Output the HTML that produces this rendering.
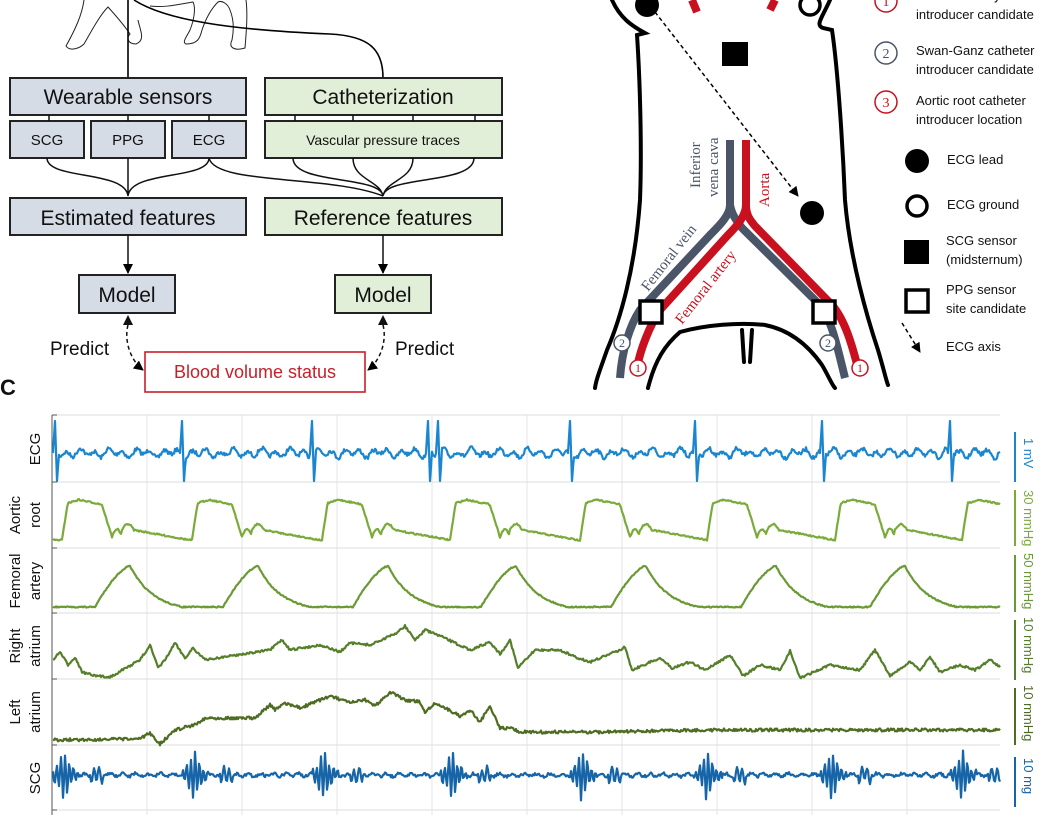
<!DOCTYPE html>
<html><head><meta charset="utf-8"><style>
html,body{margin:0;padding:0;background:#fff;}
svg{display:block;font-family:"Liberation Sans",sans-serif;}
</style></head><body>
<svg id="s" width="1050" height="815" viewBox="0 0 1050 815" xmlns="http://www.w3.org/2000/svg">
<defs>
<marker id="ah" markerWidth="10" markerHeight="10" refX="9" refY="5" orient="auto" markerUnits="userSpaceOnUse"><path d="M0,0 L10,5 L0,10 z" fill="#000"/></marker>
</defs>
<g fill="none" stroke="#222" stroke-width="1">
<path d="M84,0 C82,15 75,30 66,46 C70,52 80,48 84,44 C92,30 100,15 108,7 C118,18 126,28 130,34 C126,38 128,44 136,44 C146,40 140,30 138,20"/>
<path d="M150,6 C165,8 180,4 193,2 C196,8 194,20 190,30 C186,38 182,42 186,44 C198,44 200,38 202,30 C206,18 212,8 218,2 C222,0 228,4 230,10 C234,20 234,30 232,40 C228,48 235,51 245,48 C246,35 248,15 246,0"/>
</g>
<path d="M128,0 L128,78" stroke="#000" stroke-width="1.6" fill="none"/>
<path d="M134,0 C165,20 230,30 330,34 C370,36 383,50 383,78" stroke="#000" stroke-width="1.6" fill="none"/>

<g stroke="#222" stroke-width="2">
<rect x="10" y="78" width="236" height="37" fill="#d6dce6"/>
<rect x="265" y="78" width="237" height="37" fill="#e2efd8"/>
<rect x="10" y="121" width="74" height="37" fill="#d6dce6"/>
<rect x="91" y="121" width="74" height="37" fill="#d6dce6"/>
<rect x="172" y="121" width="74" height="37" fill="#d6dce6"/>
<rect x="265" y="121" width="237" height="37" fill="#e2efd8"/>
<rect x="10" y="198" width="236" height="37" fill="#d6dce6"/>
<rect x="265" y="198" width="237" height="37" fill="#e2efd8"/>
<rect x="79" y="275" width="96" height="38" fill="#d6dce6"/>
<rect x="335" y="275" width="96" height="38" fill="#e2efd8"/>
</g>
<rect x="145" y="352" width="220" height="40" fill="#fff" stroke="#c8202a" stroke-width="1.6"/>
<g font-size="21" text-anchor="middle" fill="#111">
<text x="128" y="104">Wearable sensors</text>
<text x="383" y="104">Catheterization</text>
<text x="128" y="225">Estimated features</text>
<text x="383" y="225">Reference features</text>
<text x="127" y="302">Model</text>
<text x="383" y="302">Model</text>
</g>
<g font-size="15" text-anchor="middle" fill="#111">
<text x="47" y="145">SCG</text><text x="128" y="145">PPG</text><text x="209" y="145">ECG</text>
</g>
<text x="383" y="145" font-size="14" text-anchor="middle" fill="#111">Vascular pressure traces</text>
<text x="255" y="378" font-size="18" text-anchor="middle" fill="#c8202a">Blood volume status</text>
<text x="50" y="355" font-size="19" fill="#111">Predict</text>
<text x="395" y="355" font-size="19" fill="#111">Predict</text>
<text x="0" y="395" font-size="22" font-weight="bold" fill="#111">C</text>

<g stroke="#111" stroke-width="1.5" fill="none">
<path d="M49,115 v6 M128,115 v6 M209,115 v6"/>
<path d="M295,115 v6 M353,115 v6 M413,115 v6 M475,115 v6"/>
<path d="M47,158 C47,180 125,170 128,196 M128,158 L128,196 M209,158 C209,180 131,170 128,196"/>
<path d="M209,158 C215,185 330,175 383,196"/>
<path d="M293,158 C293,185 380,175 383,196 M353,158 C353,180 380,180 383,196 M413,158 C413,180 386,180 383,196 M474,158 C474,185 386,175 383,196"/>
<path d="M128,235 L128,273" marker-end="url(#ah)"/>
<path d="M383,235 L383,273" marker-end="url(#ah)"/>
<path d="M128,325 C124,340 130,360 143,370" stroke-dasharray="4,3" marker-end="url(#ah)"/>
<path d="M383,325 C387,340 381,360 368,370" stroke-dasharray="4,3" marker-end="url(#ah)"/>
</g>
<path d="M128,315 l-5,10 h10 z M383,315 l-5,10 h10 z" fill="#111"/>

<g fill="none" stroke="#000" stroke-width="4" stroke-linecap="round">
<path d="M612,0 C620,18 632,26 645,33 L637,35 C640,80 642,150 640,200 C635,270 620,320 607,350 C600,370 596,380 595,388"/>
<path d="M830,0 C822,18 815,25 823,28 L832,30 C838,70 843,150 845,200 C850,260 868,320 878,350 C884,370 886,380 888,385"/>
<path d="M648,388 C655,360 665,345 680,332 C705,325 740,322 765,325 C790,330 808,345 822,365 C828,375 832,385 835,388"/>
<path d="M742,330 L744,362 M752,330 L750,362"/>
</g>
<g fill="none" stroke-width="8">
<path d="M730,140 L730,205 C730,215 720,225 710,235 L640,310 C630,325 622,350 620,378" stroke="#4a5568"/>
<path d="M730,205 C732,215 736,220 742,228 L820,305 C832,320 838,350 845,378" stroke="#4a5568"/>
<path d="M746,140 L746,205 C746,215 738,225 728,235 L660,310 C650,325 640,350 637,368" stroke="#c8101e"/>
<path d="M746,205 C746,215 750,220 755,226 L832,305 C845,320 852,345 858,368" stroke="#c8101e"/>
<path d="M692,0 L697,12 M775,0 L770,10" stroke="#c8101e"/>
</g>
<g font-family="Liberation Serif,serif" font-size="15">
<text transform="translate(700,188) rotate(-90)" fill="#4a5568">Inferior</text>
<text transform="translate(718,197) rotate(-90)" fill="#4a5568">vena cava</text>
<text transform="translate(769,207) rotate(-90)" fill="#c8101e">Aorta</text>
<text transform="translate(648,292) rotate(-52)" fill="#4a5568">Femoral vein</text>
<text transform="translate(682,325) rotate(-52)" fill="#c8101e">Femoral artery</text>
</g>
<rect x="640" y="301" width="22" height="22" fill="#fff" stroke="#000" stroke-width="3.5"/>
<rect x="813" y="301" width="22" height="22" fill="#fff" stroke="#000" stroke-width="3.5"/>
<circle cx="647" cy="5" r="12" fill="#000"/>
<circle cx="810" cy="5" r="10" fill="#fff" stroke="#000" stroke-width="3.5"/>
<rect x="722" y="42" width="26" height="24" fill="#000"/>
<circle cx="812" cy="213" r="12" fill="#000"/>
<path d="M655,12 L798,196" stroke="#000" stroke-width="1.5" stroke-dasharray="4,3" fill="none" marker-end="url(#ah)"/>
<g font-family="Liberation Serif,serif" font-size="12" text-anchor="middle">
<circle cx="622" cy="343" r="8" fill="#fff" stroke="#4a5568" stroke-width="1.5"/><text x="622" y="347" fill="#4a5568">2</text>
<circle cx="638" cy="368" r="8" fill="#fff" stroke="#c8101e" stroke-width="1.5"/><text x="638" y="372" fill="#c8101e">1</text>
<circle cx="828" cy="343" r="8" fill="#fff" stroke="#4a5568" stroke-width="1.5"/><text x="828" y="347" fill="#4a5568">2</text>
<circle cx="860" cy="368" r="8" fill="#fff" stroke="#c8101e" stroke-width="1.5"/><text x="860" y="372" fill="#c8101e">1</text>
<circle cx="886" cy="1" r="11" fill="#fff" stroke="#c8101e" stroke-width="1.5"/><text x="886" y="6" fill="#c8101e" font-size="14">1</text>
<circle cx="886" cy="53" r="11" fill="#fff" stroke="#4a5568" stroke-width="1.5"/><text x="886" y="58" fill="#4a5568" font-size="14">2</text>
<circle cx="886" cy="102" r="11" fill="#fff" stroke="#c8101e" stroke-width="1.5"/><text x="886" y="107" fill="#c8101e" font-size="14">3</text>
</g>
<g font-size="13" fill="#111">
<text x="916" y="0">Femoral artery</text>
<text x="916" y="19">introducer candidate</text>
<text x="916" y="55">Swan-Ganz catheter</text>
<text x="916" y="74">introducer candidate</text>
<text x="916" y="105">Aortic root catheter</text>
<text x="916" y="124">introducer location</text>
<text x="947" y="164">ECG lead</text>
<text x="947" y="209">ECG ground</text>
<text x="946" y="245">SCG sensor</text>
<text x="946" y="264">(midsternum)</text>
<text x="946" y="294">PPG sensor</text>
<text x="946" y="313">site candidate</text>
<text x="946" y="351">ECG axis</text>
</g>
<circle cx="917" cy="161" r="12" fill="#000"/>
<circle cx="917" cy="206" r="10" fill="#fff" stroke="#000" stroke-width="3.5"/>
<rect x="904" y="240" width="25" height="24" fill="#000"/>
<rect x="906" y="290" width="22" height="22" fill="#fff" stroke="#000" stroke-width="3.5"/>
<path d="M902,323 L920,352" stroke="#000" stroke-width="1.5" stroke-dasharray="4,3" marker-end="url(#ah)"/>

<g id="grid" stroke="#e4e4e4" stroke-width="1"></g>
<g stroke="#ddd" stroke-width="1"><path d="M52,415 H1000 M52,482 H1000 M52,548 H1000 M52,613 H1000 M52,679 H1000 M52,745 H1000 M52,810 H1000"/></g>
<path d="M52,415 V815 M52,415 h5 M52,482 h5 M52,548 h5 M52,613 h5 M52,679 h5 M52,745 h5 M52,810 h5" stroke="#555" stroke-width="1"/>
<g id="sig" fill="none" stroke-width="2.2" stroke-linejoin="round"></g>
<g font-size="15" text-anchor="middle" fill="#111">
<text transform="translate(40,449) rotate(-90)">ECG</text>
<text transform="translate(20,515) rotate(-90)">Aortic</text><text transform="translate(40,515) rotate(-90)">root</text>
<text transform="translate(20,581) rotate(-90)">Femoral</text><text transform="translate(40,581) rotate(-90)">artery</text>
<text transform="translate(20,646) rotate(-90)">Right</text><text transform="translate(40,646) rotate(-90)">atrium</text>
<text transform="translate(20,712) rotate(-90)">Left</text><text transform="translate(40,712) rotate(-90)">atrium</text>
<text transform="translate(40,778) rotate(-90)">SCG</text>
</g>
<g stroke-width="2">
<path d="M1015,432 V482" stroke="#1a86d0"/>
<path d="M1015,490 V546" stroke="#7aab3a"/>
<path d="M1015,555 V612" stroke="#6a9a34"/>
<path d="M1015,620 V680" stroke="#557f2a"/>
<path d="M1015,688 V745" stroke="#4f6d22"/>
<path d="M1015,757 V807" stroke="#1565a8"/>
</g>
<g font-size="13">
<text transform="translate(1024,438) rotate(90)" fill="#1a86d0">1 mV</text>
<text transform="translate(1024,490) rotate(90)" fill="#7aab3a">30 mmHg</text>
<text transform="translate(1024,553) rotate(90)" fill="#6a9a34">50 mmHg</text>
<text transform="translate(1024,617) rotate(90)" fill="#557f2a">10 mmHg</text>
<text transform="translate(1024,685) rotate(90)" fill="#4f6d22">10 mmHg</text>
<text transform="translate(1024,758) rotate(90)" fill="#1565a8">10 mg</text>
</g>
</svg>
<script>
(function(){
var NS="http://www.w3.org/2000/svg";
var g=document.getElementById('grid'),d='';
for(var x=147;x<1000;x+=95)d+='M'+x+',415 V815 ';
var p=document.createElementNS(NS,'path');p.setAttribute('d',d);g.appendChild(p);
var seed=7;function r(){seed=(seed*16807)%2147483647;return seed/2147483647-0.5;}
var sg=document.getElementById('sig');
function add(f,col){var s='';for(var x=53;x<=1000;x+=1){s+=(x==53?'M':'L')+x+','+f(x).toFixed(1)+' ';}
var p=document.createElementNS(NS,'path');p.setAttribute('d',s);p.setAttribute('stroke',col);sg.appendChild(p);}
var eb=[55,182,312,428,438,570,695,822,950];
add(function(x){var y=453+r()*4+3*Math.sin(x*0.45)+2*Math.sin(x*0.21);
for(var i=0;i<eb.length;i++){var t=x-eb[i];if(t>=-2&&t<0)y=453-(t+2)*16;else if(t>=0&&t<2)y=421+t*30;else if(t>=2&&t<4)y=481-(t-2)*14;}
return y;},'#1a86d0');
var ab=[62,192,322,450,580,707,835,962];
add(function(x){var b=-1;for(var i=0;i<ab.length;i++)if(x>=ab[i])b=ab[i];var y;
if(b<0){y=540;}else{var t=x-b;
if(t<6)y=540-t*6.5;else if(t<18)y=503-(t-6)*0.3;else if(t<40)y=500+(t-18)*0.2;else if(t<50)y=505+(t-40)*3.2;
else if(t<60)y=537-8*Math.sin((t-50)/10*Math.PI);else if(t<72)y=530-6*Math.sin((t-60)/12*Math.PI);else y=530+Math.min(10,(t-72)*0.18);}
return y+r()*1.5;},'#7aab3a');
var fp=[130,258,388,516,646,776,905,1040];
add(function(x){var y=607;for(var i=0;i<fp.length;i++){var t=x-fp[i];
if(t>-35&&t<=0)y=Math.min(y,566+41*Math.pow(-t/35,1.5));else if(t>0&&t<125)y=Math.min(y,607-41*Math.exp(-t/22)-8*Math.exp(-t/80)+8);}
return y+r()*1.2;},'#6a9a34');
var ra=[[53,660],[60,652],[68,665],[75,657],[82,672],[95,676],[110,677],[140,660],[150,645],[158,668],[165,660],[175,643],[185,658],[193,648],[205,660],[230,656],[270,650],[282,640],[290,650],[320,645],[340,652],[350,643],[370,645],[395,634],[405,626],[415,640],[425,630],[440,636],[470,650],[490,642],[500,654],[510,640],[518,668],[535,650],[560,650],[575,657],[590,662],[615,652],[625,647],[632,670],[660,658],[672,668],[690,662],[705,670],[730,655],[743,676],[760,665],[780,670],[790,651],[800,678],[830,665],[860,670],[875,650],[890,676],[910,662],[920,670],[930,657],[940,672],[960,665],[975,670],[990,660],[1000,667]];
function interp(pts){return function(x){for(var i=1;i<pts.length;i++)if(x<=pts[i][0]){var a=pts[i-1],b=pts[i],t=(x-a[0])/(b[0]-a[0]);return a[1]+(b[1]-a[1])*t;}return pts[pts.length-1][1];};}
var fr=interp(ra);add(function(x){return fr(x)+r()*2.2;},'#557f2a');
var la=[[53,740],[140,739],[150,733],[160,744],[175,730],[190,726],[200,722],[205,718],[215,718],[255,718],[262,712],[270,705],[275,710],[285,703],[300,708],[320,700],[330,696],[350,703],[365,700],[375,706],[390,692],[405,700],[420,702],[425,712],[435,703],[445,708],[460,716],[470,710],[480,722],[490,706],[500,728],[510,728],[520,732],[560,732],[600,732],[650,731],[700,730],[800,730],[900,730],[1000,730]];
var fl=interp(la);add(function(x){return fl(x)+r()*3;},'#4f6d22');
var sb=[62,192,322,450,580,705,830,960];
add(function(x){var y=775+r()*3+1.5*Math.sin(x*0.5);
for(var i=0;i<sb.length;i++){var t=x-sb[i];if(t>-10&&t<18)y+=26*Math.exp(-Math.abs(t-2)/7)*Math.sin(t*1.5);
if(t>28&&t<42)y+=7*Math.sin((t-28)*1.2);}
return y;},'#1565a8');
})();
</script>
</body></html>
